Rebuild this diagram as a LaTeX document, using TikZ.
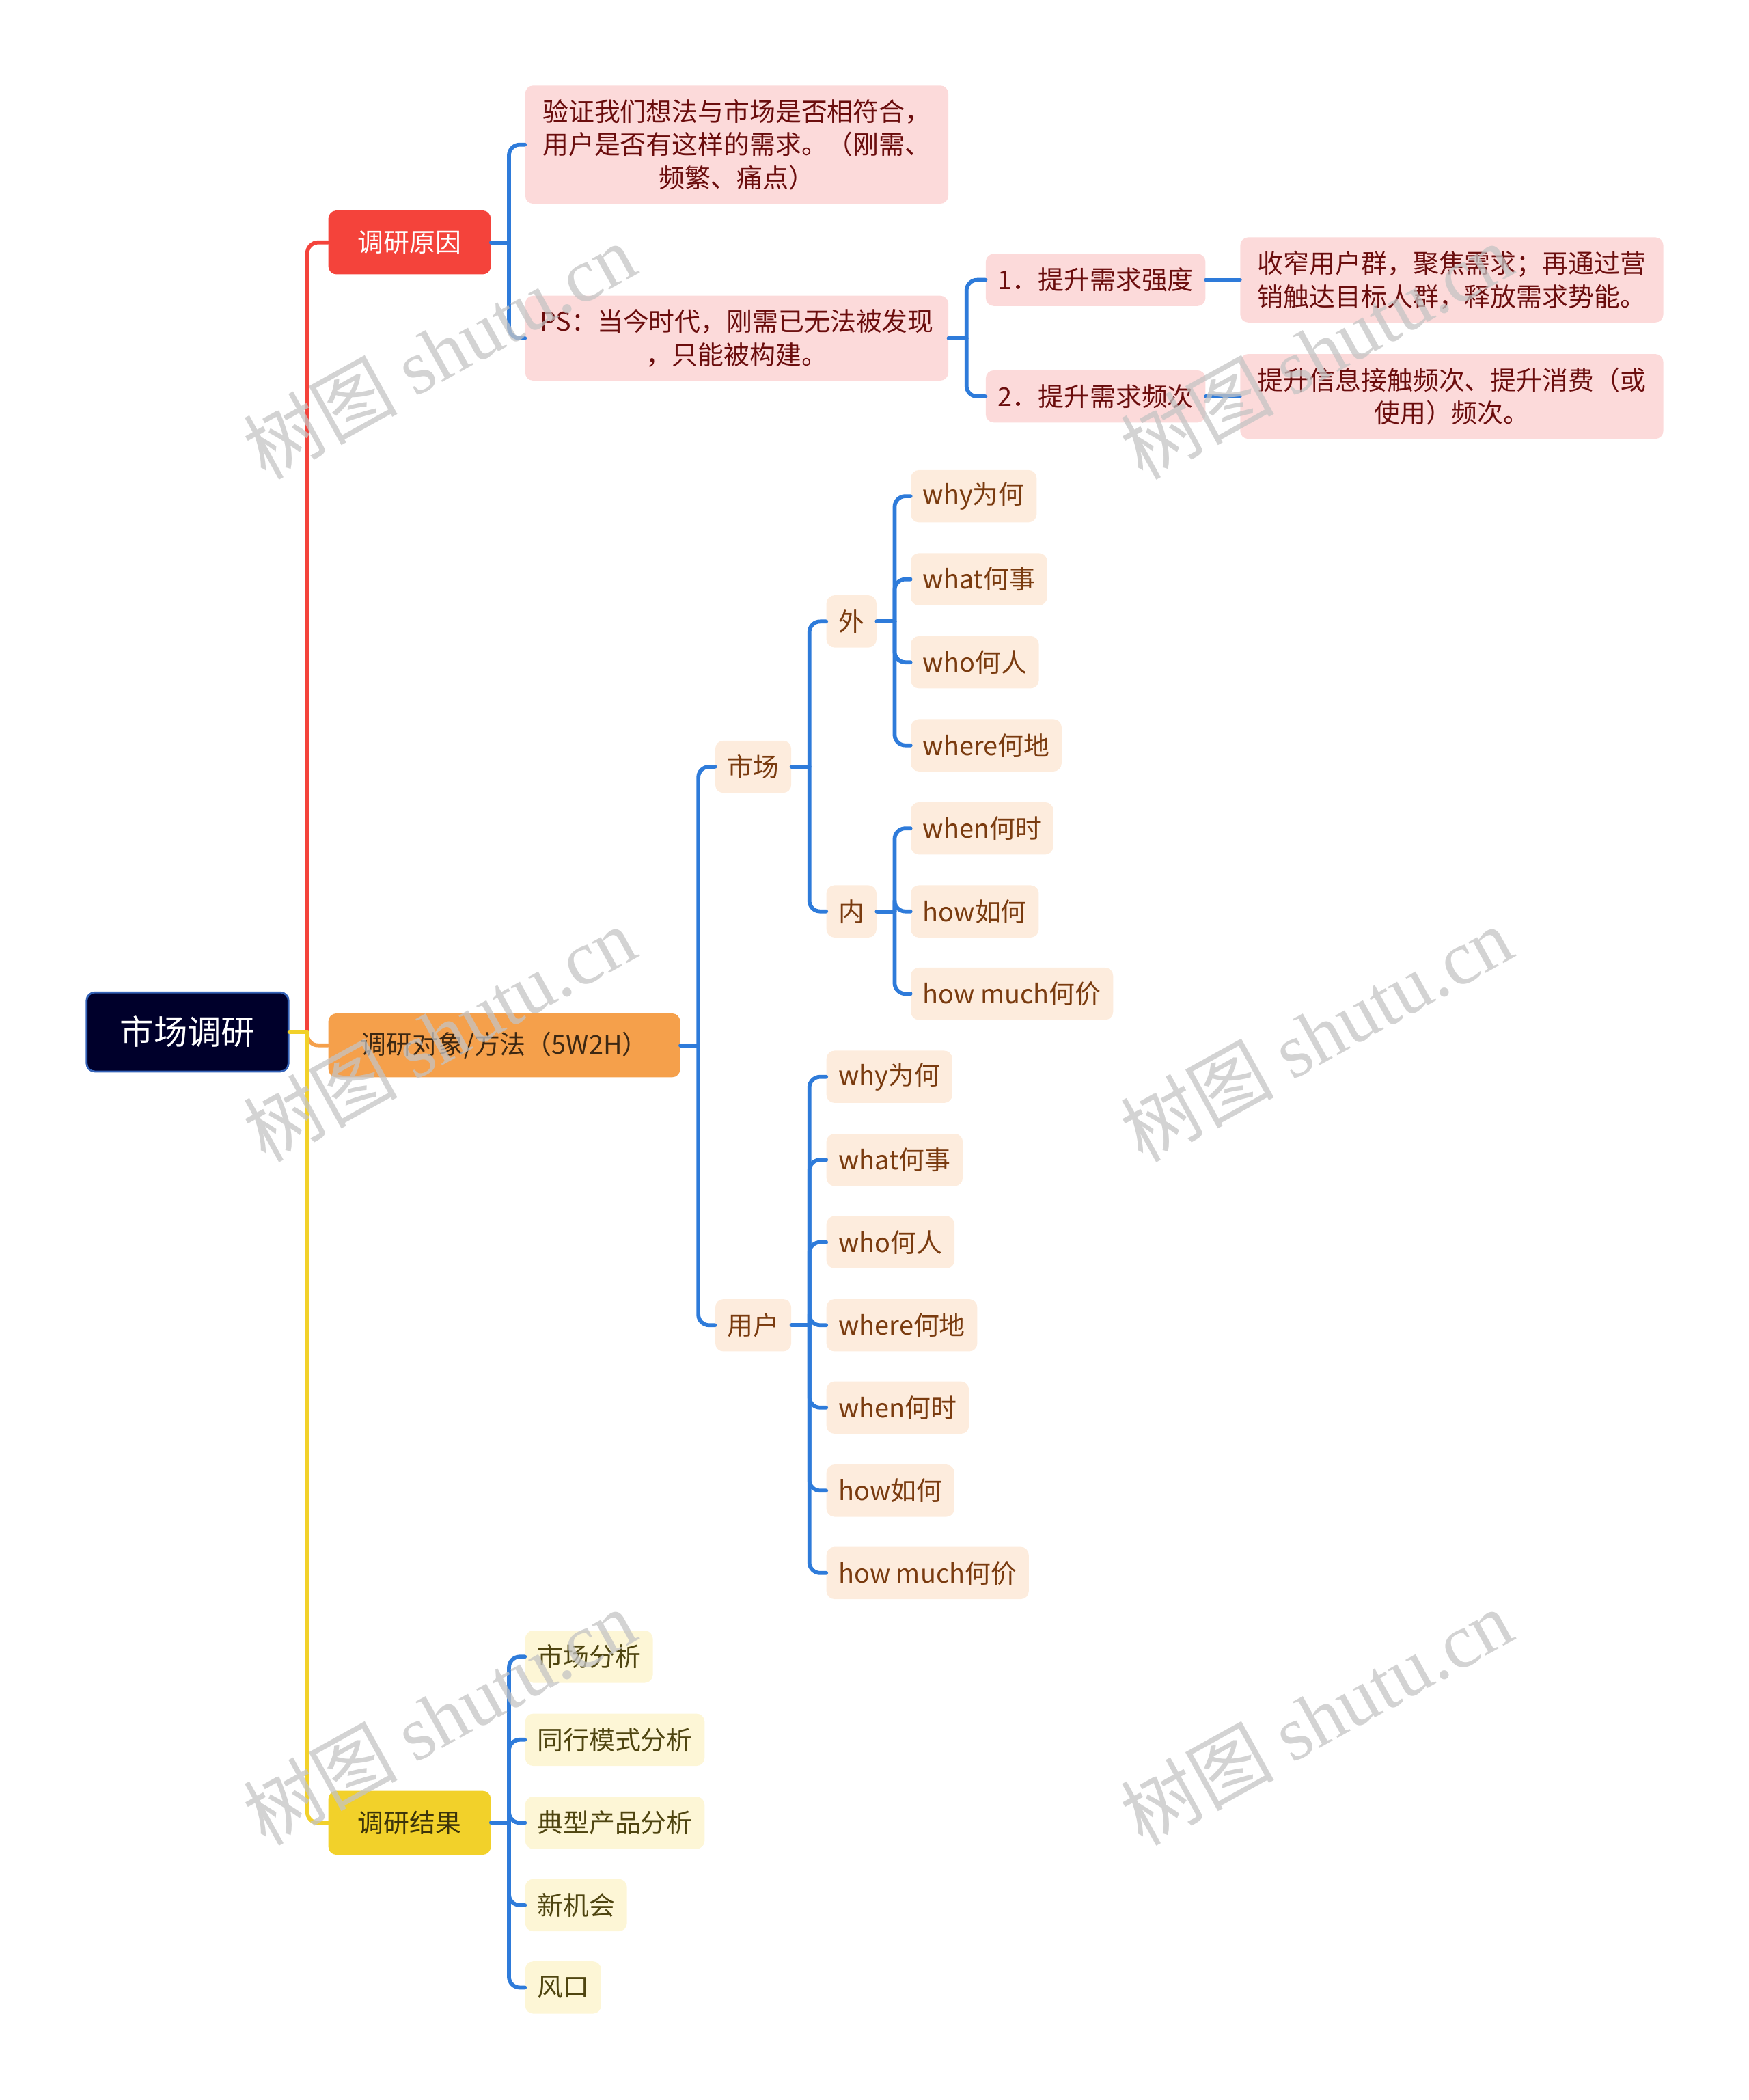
\documentclass[tikz,border=0pt]{standalone}
\usepackage{fontspec}
\setmainfont{Noto Sans CJK SC}
\newfontfamily\wmserif{Liberation Serif}
\usetikzlibrary{positioning}
\definecolor{rootfill}{HTML}{00002B}
\definecolor{rootline}{HTML}{3563B8}
\definecolor{redbox}{HTML}{F4433B}
\definecolor{orangebox}{HTML}{F5A04B}
\definecolor{yellowbox}{HTML}{F2D12A}
\definecolor{blueline}{HTML}{2E7BDA}
\definecolor{pinkfill}{HTML}{FCDADA}
\definecolor{pinktext}{HTML}{6B0D0D}
\definecolor{peachfill}{HTML}{FDECDD}
\definecolor{peachtext}{HTML}{7A3B0F}
\definecolor{lyellowfill}{HTML}{FDF6D6}
\definecolor{lyellowtext}{HTML}{4F4510}
\definecolor{wmgray}{HTML}{C4C4C4}

\tikzset{
	base/.style={rounded corners=0.18cm, anchor=west, font=\fontsize{16.5pt}{21.3pt}\selectfont},
	rootbox/.style={base, fill=rootfill, draw=rootline, line width=1.2pt, text=white,
		minimum height=1.77cm, inner xsep=0.75cm, font=\fontsize{21.5pt}{26pt}\selectfont},
	topic/.style={base, minimum height=1.43cm, inner xsep=0.66cm},
	pinkbox/.style={base, fill=pinkfill, text=pinktext, minimum height=1.17cm, inner xsep=0.27cm},
	pinkpara/.style={pinkbox, text width=9cm, align=center, inner xsep=0.24cm, inner ysep=0.3cm},
	peachbox/.style={base, fill=peachfill, text=peachtext, minimum height=1.17cm, inner xsep=0.27cm},
	lybox/.style={base, fill=lyellowfill, text=lyellowtext, minimum height=1.17cm, inner xsep=0.27cm},
	link/.style={line width=2.5pt},
	elbow/.style={link, rounded corners=0.24cm},
	watermark/.style={rotate=29, text=wmgray, text opacity=0.75, font=\fontsize{49pt}{50pt}\selectfont}
}

\begin{document}
\begin{tikzpicture}[x=0.03cm, y=-0.03cm, line cap=round, line join=round]
	\useasboundingbox (0,0) rectangle (1306,1568);
	% main topic and first level
	\node[rootbox] (root) at (64,770.5) {市场调研};
	\node[topic, fill=redbox, text=white] (yy) at (245,181) {调研原因};
	\node[topic, fill=orangebox, text=orangebox!25!black, inner xsep=0.72cm] (dx) at (245,780.5) {调研对象/方法（5W2H）};
	\node[topic, fill=yellowbox, text=yellowbox!25!black] (jg) at (245,1361) {调研结果};
	% reasons
	\node[pinkpara] (yz) at (392,108) {验证我们想法与市场是否相符合，\\用户是否有这样的需求。（刚需、\\频繁、痛点）};
	\node[pinkpara] (ps) at (392,252.5) {PS：当今时代，刚需已无法被发现\\，只能被构建。};
	\node[pinkbox] (t1) at (736,209) {1．提升需求强度};
	\node[pinkbox] (t2) at (736,296) {2．提升需求频次};
	\node[pinkpara] (d1) at (926,209) {收窄用户群，聚焦需求；再通过营\\销触达目标人群，释放需求势能。};
	\node[pinkpara] (d2) at (926,296) {提升信息接触频次、提升消费（或\\使用）频次。};
	% objects and methods
	\node[peachbox] (sc) at (534,572.5) {市场};
	\node[peachbox] (yh) at (534,989.5) {用户};
	\node[peachbox] (wai) at (617,464) {外};
	\node[peachbox] (nei) at (617,680.5) {内};
	\node[peachbox] (w1) at (680,370.5) {why为何};
	\node[peachbox] (w2) at (680,432.5) {what何事};
	\node[peachbox] (w3) at (680,494.5) {who何人};
	\node[peachbox] (w4) at (680,556.5) {where何地};
	\node[peachbox] (n1) at (680,618.5) {when何时};
	\node[peachbox] (n2) at (680,680.5) {how如何};
	\node[peachbox] (n3) at (680,742) {how much何价};
	\node[peachbox] (u1) at (617,804) {why为何};
	\node[peachbox] (u2) at (617,866) {what何事};
	\node[peachbox] (u3) at (617,927.5) {who何人};
	\node[peachbox] (u4) at (617,989.5) {where何地};
	\node[peachbox] (u5) at (617,1051) {when何时};
	\node[peachbox] (u6) at (617,1113) {how如何};
	\node[peachbox] (u7) at (617,1174.5) {how much何价};
	% results
	\node[lybox] (r1) at (392,1237) {市场分析};
	\node[lybox] (r2) at (392,1299) {同行模式分析};
	\node[lybox] (r3) at (392,1361) {典型产品分析};
	\node[lybox] (r4) at (392,1422.5) {新机会};
	\node[lybox] (r5) at (392,1484) {风口};
	% junctions
	\foreach \p in {root,yy,ps,dx,sc,wai,nei,yh,jg}
		\coordinate (\p-j) at ([xshift=0.4cm]\p.east);
	% connectors
	\draw[elbow, redbox] (root-j) |- (yy.west);
	\draw[elbow, orangebox] (root-j) |- (dx.west);
	\draw[elbow, yellowbox] (root-j) |- (jg.west);
	\draw[link, yellowbox] (root.east) -- (root-j);
	\foreach \p/\c in {yy/yz,yy/ps,ps/t1,ps/t2,dx/sc,dx/yh,sc/wai,sc/nei,wai/w1,wai/w2,wai/w3,wai/w4,
		nei/n1,nei/n2,nei/n3,yh/u1,yh/u2,yh/u3,yh/u4,yh/u5,yh/u6,yh/u7,jg/r1,jg/r2,jg/r3,jg/r4,jg/r5}
		\draw[elbow, blueline] (\p-j) |- (\c.west);
	\foreach \p in {yy,ps,dx,sc,wai,nei,yh,jg}
		\draw[link, blueline] (\p.east) -- (\p-j);
	\draw[link, blueline] (t1.east) -- (d1.west);
	\draw[link, blueline] (t2.east) -- (d2.west);
	% watermarks
	\foreach \wx/\wy [count=\i] in {328/262,983/262,328/772,983/772,328/1282,983/1282}
		\node[watermark] (wm\i) at (\wx,\wy) {树图 {\wmserif shutu.cn}};
\end{tikzpicture}
\end{document}
